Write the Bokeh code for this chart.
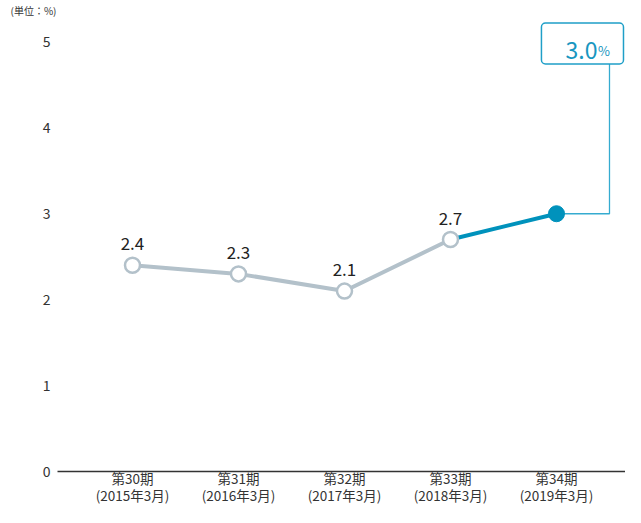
from bokeh.plotting import figure
from bokeh.models import (FixedTicker, LabelSet, Label, BoxAnnotation,
                          ColumnDataSource, Range1d)
from bokeh.core.properties import value
from bokeh.embed import file_html
from bokeh.resources import INLINE

# ---- data ----
periods = ["第30期", "第31期", "第32期", "第33期", "第34期"]
dates = ["(2015年3月)", "(2016年3月)", "(2017年3月)", "(2018年3月)", "(2019年3月)"]
values = [2.4, 2.3, 2.1, 2.7, 3.0]
y_ticks = [0, 1, 2, 3, 4, 5]
unit_text = "(単位：%)"

FONT = "Noto Sans CJK JP"
GREY = "#b3c1ca"
BLUE = "#0092bc"
LIGHT_BLUE = "#35abd0"

xs = list(range(len(values)))
n = len(values)

p = figure(width=625, height=507,
           x_range=Range1d(-0.7075, 4.651), y_range=Range1d(0, 5.284),
           output_backend="svg", toolbar_location=None,
           min_border_left=57, min_border_right=0,
           min_border_top=0, min_border_bottom=30)
p.grid.visible = False
p.outline_line_color = None

# unit text as the title
p.title.text = unit_text
p.title.align = "left"
p.title.offset = -47
p.title.standoff = 0
p.title.text_font = FONT
p.title.text_font_size = "10px"
p.title.text_font_style = "normal"
p.title.text_color = "#333333"

# x axis
p.xaxis.ticker = FixedTicker(ticks=xs)
p.xaxis.major_label_overrides = {i: f"{a}\n{b}" for i, (a, b) in enumerate(zip(periods, dates))}
p.xaxis.major_tick_line_color = None
p.xaxis.major_tick_out = 0
p.xaxis.major_tick_in = 0
p.xaxis.minor_tick_line_color = None
p.xaxis.minor_tick_out = 0
p.xaxis.axis_line_color = "#333333"
p.xaxis.axis_line_width = 1.5
p.xaxis.major_label_text_font = FONT
p.xaxis.major_label_text_font_size = "13.5px"
p.xaxis.major_label_text_line_height = 0.85
p.xaxis.major_label_text_color = "#333333"
p.xaxis.major_label_standoff = -4

# y axis
p.yaxis.ticker = FixedTicker(ticks=y_ticks)
p.yaxis.axis_line_color = None
p.yaxis.major_tick_line_color = None
p.yaxis.major_tick_out = 0
p.yaxis.major_tick_in = 0
p.yaxis.minor_tick_line_color = None
p.yaxis.minor_tick_out = 0
p.yaxis.major_label_text_font = FONT
p.yaxis.major_label_text_font_size = "14px"
p.yaxis.major_label_text_color = "#333333"
p.yaxis.major_label_standoff = 7

# connector to the callout box
box_left, box_right, box_bottom, box_top = 3.858, 4.632, 4.744, 5.22
conn_x = 4.5
p.line([xs[-1], conn_x, conn_x], [values[-1], values[-1], box_bottom],
       line_color=LIGHT_BLUE, line_width=1.3)

# lines
p.line(xs[:n - 1], values[:n - 1], line_color=GREY, line_width=4)
p.line(xs[n - 2:], values[n - 2:], line_color=BLUE, line_width=4)

# markers
p.scatter(xs[:n - 1], values[:n - 1], size=15, marker="circle",
          fill_color="white", line_color=GREY, line_width=2.5)
p.scatter([xs[-1]], [values[-1]], size=16, marker="circle",
          fill_color=BLUE, line_color=BLUE, line_width=1)

# value labels
src = ColumnDataSource(dict(x=xs[:n - 1], y=values[:n - 1],
                            t=[f"{v:.1f}" for v in values[:n - 1]]))
p.add_layout(LabelSet(x="x", y="y", text="t", source=src, y_offset=15,
                      text_align="center", text_baseline="alphabetic",
                      text_font=value(FONT), text_font_size=value("17px"),
                      text_color="#222222"))

# callout box
p.add_layout(BoxAnnotation(left=box_left, right=box_right, bottom=box_bottom, top=box_top,
                           fill_color="white", fill_alpha=1, line_color="#1f9fc8",
                           line_alpha=1, line_width=1.5, border_radius=4, level="overlay"))
p.add_layout(Label(x=4.387, y=4.895, text=f"{values[-1]:.1f}", text_align="right",
                   text_baseline="alphabetic", text_font=FONT, text_font_size="23px",
                   text_color="#1896c0", level="overlay"))
p.add_layout(Label(x=4.392, y=4.895, text="%", text_align="left",
                   text_baseline="alphabetic", text_font=FONT, text_font_size="13px",
                   text_color="#1896c0", level="overlay"))

open("out.html", "w").write(file_html(p, INLINE))
